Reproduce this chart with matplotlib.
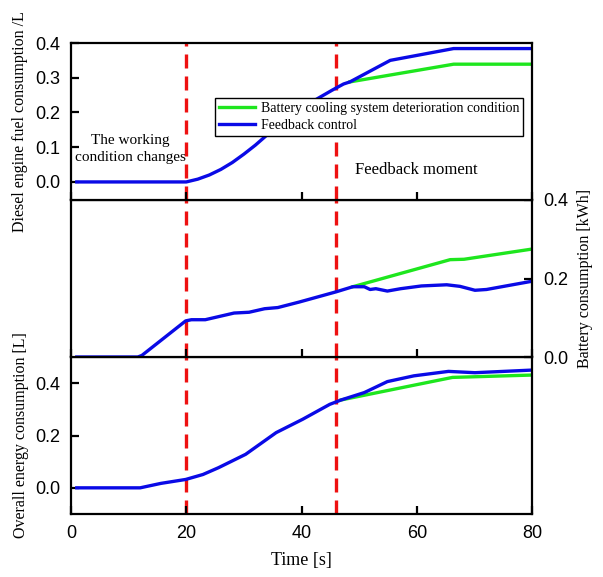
import matplotlib
matplotlib.use("Agg")
import matplotlib.pyplot as plt

# Diesel engine fuel consumption (top panel)
fuel_fb_t = [1, 20, 22, 24, 26, 28, 30, 32, 34, 36, 38, 40, 42.9, 45.3, 47.3, 48.4, 55.4, 66.4, 80]
fuel_fb_v = [0, 0, 0.008, 0.02, 0.036, 0.056, 0.08, 0.106, 0.135, 0.163, 0.19, 0.213, 0.241, 0.264, 0.282, 0.288, 0.35, 0.384, 0.384]
fuel_det_t = [48.4, 66.4, 80]
fuel_det_v = [0.288, 0.339, 0.339]

# Battery consumption (middle panel)
bat_fb_t = [1, 11.6, 12.3, 19.9, 20.9, 23.3, 28.3, 30.9, 33.6, 35.9, 39.6, 46, 48.9, 50.9, 51.9, 52.9,
            54.9, 57.2, 60.8, 65.2, 67.5, 70.1, 72.1, 80]
bat_fb_v = [0, 0, 0.004, 0.092, 0.095, 0.095, 0.112, 0.114, 0.123, 0.126, 0.14, 0.166, 0.179, 0.179, 0.172, 0.174,
            0.168, 0.174, 0.181, 0.184, 0.18, 0.17, 0.172, 0.193]
bat_det_t = [48.9, 65.8, 68.2, 80]
bat_det_v = [0.179, 0.248, 0.249, 0.275]

# Overall energy consumption (bottom panel)
tot_fb_t = [1, 12, 15.6, 19.9, 22.9, 25.6, 30.3, 35.6, 40.2, 44.9, 46.9, 50.9, 54.9, 59.5, 65.5, 70.1, 80]
tot_fb_v = [0, 0, 0.017, 0.032, 0.051, 0.077, 0.128, 0.211, 0.262, 0.319, 0.336, 0.364, 0.406, 0.428, 0.445, 0.44, 0.45]
tot_det_t = [46.9, 66.2, 80]
tot_det_v = [0.336, 0.422, 0.431]

event_times = [20, 46]

GREEN = "#1ee61e"
BLUE = "#0a0ae6"
SERIF = ["Liberation Serif", "DejaVu Serif"]
SANS = ["Liberation Sans", "DejaVu Sans"]

plt.rcParams["font.family"] = SANS
plt.rcParams["axes.linewidth"] = 1.6

fig = plt.figure(figsize=(6.03, 5.77), dpi=100)
left, width = 71 / 603, 461 / 603
h = 157 / 577
bottom0 = 1 - 514 / 577
ax3 = fig.add_axes([left, bottom0, width, h])
ax2 = fig.add_axes([left, bottom0 + h, width, h])
ax1 = fig.add_axes([left, bottom0 + 2 * h, width, h])

for ax in (ax1, ax2, ax3):
    ax.set_xlim(0, 80)
    ax.set_xticks([0, 20, 40, 60, 80])
    ax.tick_params(direction="in", length=6, width=1.6, labelsize=13, top=False, pad=8)
    for t in event_times:
        ax.axvline(t, color="#ee1111", lw=2.4, dashes=(4.2, 2.4), zorder=1)

# top panel
ax1.plot(fuel_det_t, fuel_det_v, color=GREEN, lw=2.4, label="Battery cooling system deterioration condition")
ax1.plot(fuel_fb_t, fuel_fb_v, color=BLUE, lw=2.4, label="Feedback control")
ax1.set_ylim(-0.052, 0.4)
ax1.set_yticks([0.0, 0.1, 0.2, 0.3, 0.4])
ax1.tick_params(axis="x", labelbottom=False)
ax1.set_ylabel("Diesel engine fuel consumption /L", family=SERIF, fontsize=11.5, labelpad=5)
leg = ax1.legend(loc="upper left", bbox_to_anchor=(0.312, 0.65), prop={"family": SERIF, "size": 10},
                 frameon=True, fancybox=False, framealpha=1, edgecolor="black",
                 handlelength=2.6, borderpad=0.3, labelspacing=0.25, handletextpad=0.4, borderaxespad=0)
leg.get_frame().set_linewidth(1.0)
ax1.text(10.3, 0.095, "The working\ncondition changes", family=SERIF, fontsize=11,
         ha="center", va="center", linespacing=1.45)
ax1.text(60, 0.035, "Feedback moment", family=SERIF, fontsize=12, ha="center", va="center")

# middle panel
ax2.plot(bat_det_t, bat_det_v, color=GREEN, lw=2.4)
ax2.plot(bat_fb_t, bat_fb_v, color=BLUE, lw=2.4)
ax2.set_ylim(0, 0.4)
ax2.set_yticks([0.0, 0.2, 0.4])
ax2.tick_params(axis="y", left=False, labelleft=False, right=True, labelright=True)
ax2.tick_params(axis="x", labelbottom=False)
ax2.yaxis.set_label_position("right")
ax2.set_ylabel("Battery consumption [kWh]", family=SERIF, fontsize=11.5, labelpad=6)

# bottom panel
ax3.plot(tot_det_t, tot_det_v, color=GREEN, lw=2.4)
ax3.plot(tot_fb_t, tot_fb_v, color=BLUE, lw=2.4)
ax3.set_ylim(-0.1, 0.5)
ax3.set_yticks([0.0, 0.2, 0.4])
ax3.set_ylabel("Overall energy consumption [L]", family=SERIF, fontsize=11.5, labelpad=4)
ax3.set_xlabel("Time [s]", family=SERIF, fontsize=13, labelpad=7)

fig.savefig("out.png", dpi=100)
